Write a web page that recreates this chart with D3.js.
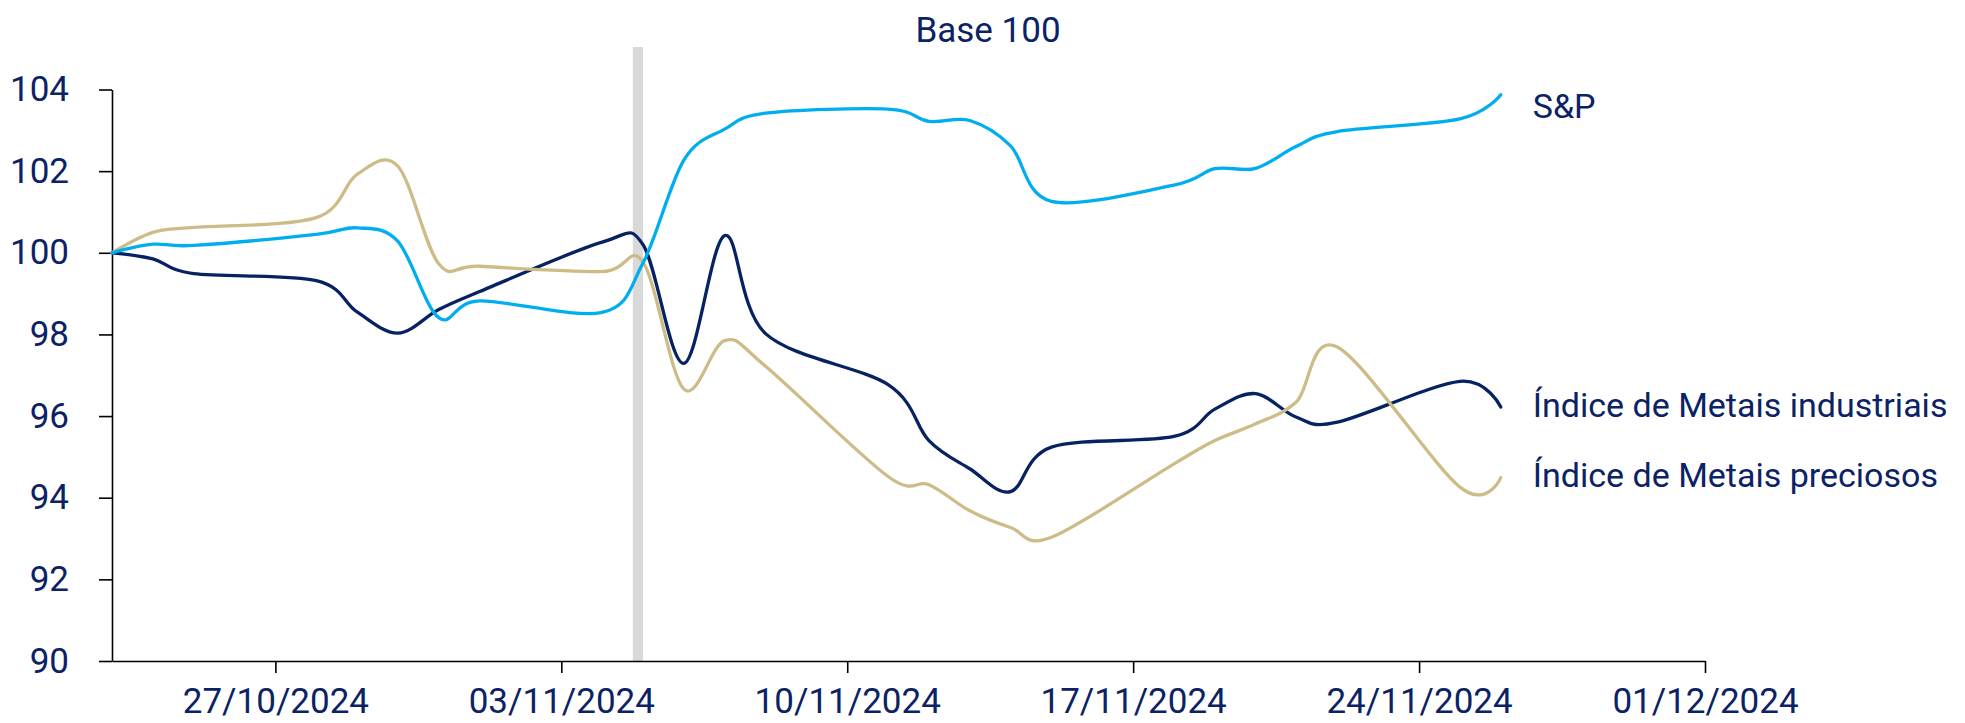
<!DOCTYPE html>
<html lang="pt">
<head>
<meta charset="utf-8">
<script src="https://cdn.jsdelivr.net/npm/d3@7"></script>
<style>
  body { margin: 0; background: #fff; }
  text { font-family: Roboto, "Noto Sans", sans-serif; fill: #0b2265; }
</style>
</head>
<body>
<svg id="vis"></svg>
<script>
// datos (base 100 = 23/10/2024)
const FECHAS = [
  "2024-10-23", "2024-10-24", "2024-10-25", "2024-10-28", "2024-10-29",
  "2024-10-30", "2024-10-31", "2024-11-01", "2024-11-04", "2024-11-05",
  "2024-11-06", "2024-11-07", "2024-11-08", "2024-11-11", "2024-11-12",
  "2024-11-13", "2024-11-14", "2024-11-15", "2024-11-18", "2024-11-19",
  "2024-11-20", "2024-11-21", "2024-11-22", "2024-11-25", "2024-11-26",
];
const SP = [
  100, 100.21, 100.18, 100.45, 100.61, 100.28, 98.41, 98.82, 98.54, 99.75,
  102.27, 103.03, 103.42, 103.52, 103.22, 103.24, 102.62, 101.26, 101.66,
  102.06, 102.07, 102.61, 102.97, 103.28, 103.87,
];
const INDUSTRIAIS = [
  100, 99.85, 99.49, 99.32, 98.55, 98.03, 98.61, 99.05, 100.26, 100.2,
  97.29, 100.42, 98.02, 96.77, 95.4, 94.71, 94.15, 95.24, 95.5, 96.17,
  96.55, 95.97, 95.85, 96.85, 96.22,
];
const PRECIOSOS = [
  100, 100.5, 100.62, 100.86, 101.92, 102.12, 99.73, 99.67, 99.54, 99.77,
  96.66, 97.85, 97.22, 94.52, 94.32, 93.68, 93.27, 93.03, 94.83, 95.4,
  95.81, 96.35, 97.69, 94.26, 94.49,
];
const NOMBRES = ["S&P", "Índice de Metais industriais", "Índice de Metais preciosos"];
const TICKS_X = ["2024-10-27", "2024-11-03", "2024-11-10", "2024-11-17", "2024-11-24", "2024-12-01"];
const TICKS_Y = [90, 92, 94, 96, 98, 100, 102, 104];
// franja gris (eleição EUA)
const BANDA = ["2024-11-04T18:00", "2024-11-05T00:00"];
const BANDA_TOPE = 105.04;

const WIDTH = 1965;
const HEIGHT = 723;

const MARGIN = {
  top: 89.5,
  bottom: 62,
  left: 112,
  right: 260,
};

const COLORS = ["#00aeef", "#072262", "#cdbc88"];

const svg = d3.select("#vis").attr("width", WIDTH).attr("height", HEIGHT);

const parseFecha = d3.timeParse("%Y-%m-%d");
const parseHora = d3.timeParse("%Y-%m-%dT%H:%M");
const fechas = FECHAS.map(parseFecha);

const series = [SP, INDUSTRIAIS, PRECIOSOS].map((valores, i) => ({
  nombre: NOMBRES[i],
  color: COLORS[i],
  puntos: valores.map((v, j) => ({ fecha: fechas[j], valor: v })),
}));

const escalaX = d3
  .scaleTime()
  .domain([parseFecha("2024-10-23"), parseFecha("2024-12-01")])
  .range([MARGIN.left, WIDTH - MARGIN.right]);

const escalaY = d3
  .scaleLinear()
  .domain([90, 104])
  .range([HEIGHT - MARGIN.bottom, MARGIN.top]);

// franja gris
svg
  .append("rect")
  .attr("x", escalaX(parseHora(BANDA[0])))
  .attr("width", escalaX(parseHora(BANDA[1])) - escalaX(parseHora(BANDA[0])))
  .attr("y", escalaY(BANDA_TOPE))
  .attr("height", escalaY(90) - escalaY(BANDA_TOPE))
  .attr("fill", "#d9d9d9");

// ejes
const ejeX = d3
  .axisBottom(escalaX)
  .tickValues(TICKS_X.map(parseFecha))
  .tickFormat(d3.timeFormat("%d/%m/%Y"))
  .tickSize(12)
  .tickSizeOuter(0)
  .tickPadding(15);

const ejeY = d3
  .axisLeft(escalaY)
  .tickValues(TICKS_Y)
  .tickSize(13)
  .tickSizeOuter(0)
  .tickPadding(30);

const gX = svg
  .append("g")
  .attr("transform", `translate(0, ${HEIGHT - MARGIN.bottom})`)
  .call(ejeX);

const gY = svg
  .append("g")
  .attr("transform", `translate(${MARGIN.left}, 0)`)
  .call(ejeY);

[gX, gY].forEach((g) => {
  g.attr("font-size", null).attr("font-family", null);
  g.selectAll("path, line").attr("stroke", "#000").attr("stroke-width", 1.6);
  g.selectAll("text").style("font-size", "35px").attr("fill", "#0b2265");
});

// líneas suavizadas
const linea = d3
  .line()
  .x((d) => escalaX(d.fecha))
  .y((d) => escalaY(d.valor))
  .curve(d3.curveCardinal.tension(0));

const ORDEN = [1, 2, 0];
svg
  .selectAll(".serie")
  .data(ORDEN.map((i) => series[i]))
  .join("path")
  .attr("class", "serie")
  .attr("d", (d) => linea(d.puntos))
  .attr("fill", "none")
  .attr("stroke", (d) => d.color)
  .attr("stroke-width", 3.3)
  .attr("stroke-linecap", "round")
  .attr("stroke-linejoin", "round");

// etiquetas al final de cada línea
const DESPLAZA = [23.5, 9.5, 9];
svg
  .selectAll(".etiqueta")
  .data(series)
  .join("text")
  .attr("class", "etiqueta")
  .attr("x", (d) => escalaX(d.puntos[d.puntos.length - 1].fecha) + 32)
  .attr("y", (d, i) => escalaY(d.puntos[d.puntos.length - 1].valor) + DESPLAZA[i])
  .style("font-size", "34px")
  .text((d) => d.nombre);

// título
svg
  .append("text")
  .attr("x", 988)
  .attr("y", 42)
  .attr("text-anchor", "middle")
  .style("font-size", "35px")
  .text("Base 100");
</script>
</body>
</html>
